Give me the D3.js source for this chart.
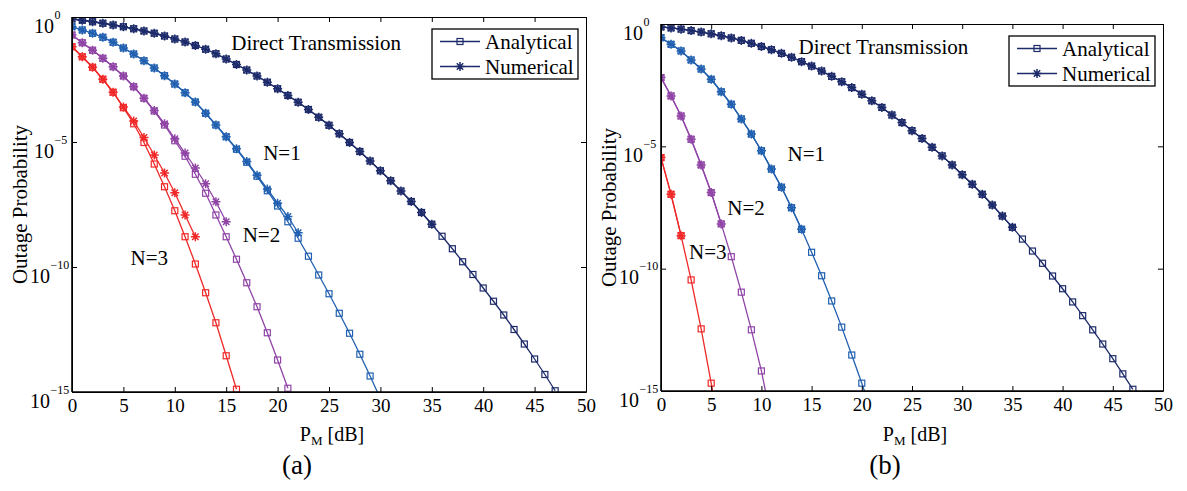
<!DOCTYPE html>
<html>
<head>
<meta charset="utf-8">
<script src="https://cdn.jsdelivr.net/npm/d3@7"></script>
<style>
  body { margin: 0; background: #fff; }
  svg text { font-family: "Liberation Serif", "Times New Roman", serif; fill: #000; }
</style>
</head>
<body>
<svg id="chart" width="1187" height="491"></svg>
<script>
// values are log10(outage probability), one point per dB starting at 0 dB
const xTicks = [0, 5, 10, 15, 20, 25, 30, 35, 40, 45, 50];
const yTickExp = [0, -5, -10, -15];

// ---- panel (a)
const aDirectAna = [-0.08, -0.13, -0.19, -0.25, -0.32, -0.39, -0.47, -0.56, -0.65, -0.76,
  -0.88, -1.00, -1.14, -1.29, -1.47, -1.68, -1.90, -2.12, -2.36, -2.61,
  -2.87, -3.14, -3.41, -3.70, -4.01, -4.33, -4.67, -5.02, -5.38, -5.76,
  -6.15, -6.55, -6.96, -7.38, -7.82, -8.29, -8.77, -9.27, -9.79, -10.30,
  -10.84, -11.37, -11.92, -12.50, -13.08, -13.68, -14.30, -14.95];
const aDirectNum = [-0.08, -0.13, -0.19, -0.25, -0.32, -0.39, -0.47, -0.56, -0.65, -0.76,
  -0.88, -1.00, -1.14, -1.29, -1.47, -1.68, -1.90, -2.12, -2.36, -2.61,
  -2.87, -3.14, -3.41, -3.70, -4.01, -4.33, -4.67, -5.02, -5.38, -5.76,
  -6.15, -6.55, -6.96, -7.38, -7.82, -8.29];
const aN1Ana = [-0.39, -0.52, -0.65, -0.81, -1.01, -1.24, -1.48, -1.75, -2.04, -2.35,
  -2.68, -3.03, -3.40, -3.85, -4.32, -4.79, -5.29, -5.81, -6.37, -6.95,
  -7.56, -8.19, -8.85, -9.57, -10.32, -11.07, -11.85, -12.65, -13.49, -14.36, -15.27];
const aN1Num = [-0.39, -0.52, -0.65, -0.81, -1.01, -1.24, -1.48, -1.75, -2.04, -2.35,
  -2.68, -3.03, -3.40, -3.85, -4.32, -4.79, -5.27, -5.78, -6.33, -6.88,
  -7.45, -7.98, -8.63];
const aN2Ana = [-0.72, -1.03, -1.33, -1.65, -1.99, -2.36, -2.79, -3.25, -3.76, -4.32,
  -4.95, -5.57, -6.29, -7.05, -7.92, -8.79, -9.69, -10.63, -11.59, -12.63, -13.72, -14.85];
const aN2Num = [-0.72, -1.03, -1.33, -1.65, -1.99, -2.36, -2.79, -3.25, -3.74, -4.27,
  -4.87, -5.44, -6.04, -6.67, -7.39, -8.19];
const aN3Ana = [-1.19, -1.59, -2.01, -2.49, -3.01, -3.63, -4.27, -5.02, -5.88, -6.79,
  -7.75, -8.79, -9.88, -11.03, -12.23, -13.55, -14.89];
const aN3Num = [-1.19, -1.59, -2.01, -2.49, -3.01, -3.60, -4.16, -4.82, -5.52, -6.24,
  -7.03, -7.92, -8.79];

// ---- panel (b)
const bDirectAna = [-0.12, -0.16, -0.21, -0.27, -0.33, -0.40, -0.48, -0.57, -0.67, -0.79,
  -0.92, -1.05, -1.20, -1.36, -1.54, -1.72, -1.92, -2.14, -2.36, -2.60,
  -2.87, -3.14, -3.41, -3.72, -4.03, -4.36, -4.68, -5.04, -5.39, -5.76,
  -6.16, -6.55, -6.96, -7.40, -7.85, -8.31, -8.79, -9.28, -9.78, -10.30,
  -10.82, -11.36, -11.92, -12.50, -13.08, -13.68, -14.30, -14.93];
const bDirectNum = [-0.12, -0.16, -0.21, -0.27, -0.33, -0.40, -0.48, -0.57, -0.67, -0.79,
  -0.92, -1.05, -1.20, -1.36, -1.54, -1.72, -1.92, -2.14, -2.36, -2.60,
  -2.87, -3.14, -3.41, -3.72, -4.03, -4.36, -4.68, -5.04, -5.39, -5.76,
  -6.16, -6.55, -6.96, -7.40, -7.85, -8.31];
const bN1Ana = [-0.56, -0.83, -1.10, -1.47, -1.84, -2.26, -2.77, -3.28, -3.88, -4.50,
  -5.18, -5.93, -6.67, -7.51, -8.39, -9.33, -10.29, -11.32, -12.39, -13.53, -14.68, -15.90];
const bN1Num = [-0.56, -0.83, -1.10, -1.47, -1.84, -2.26, -2.77, -3.28, -3.88, -4.50,
  -5.18, -5.93, -6.67, -7.51, -8.39];
const bN2Ana = [-2.19, -2.94, -3.76, -4.71, -5.76, -6.89, -8.17, -9.51, -10.96, -12.50, -14.18, -16.20];
const bN2Num = [-2.19, -2.94, -3.76, -4.71, -5.76, -6.89, -8.17];
const bN3Ana = [-5.46, -6.96, -8.65, -10.46, -12.46, -14.68, -17.00];
const bN3Num = [-5.46, -6.96, -8.65];

const colors = { direct: "#1d2b6b", n1: "#2160b0", n2: "#9044a6", n3: "#f02828" };

const panels = [
  {
    id: "a", left: 72, right: 586, top: 17, bottom: 392, tag: "(a)", tagX: 297,
    series: [
      { ana: aDirectAna, num: aDirectNum, color: colors.direct },
      { ana: aN1Ana, num: aN1Num, color: colors.n1 },
      { ana: aN2Ana, num: aN2Num, color: colors.n2 },
      { ana: aN3Ana, num: aN3Num, color: colors.n3 }
    ],
    notes: [
      { text: "Direct Transmission", x: 15.5, e: -1.32 },
      { text: "N=1", x: 18.6, e: -5.72 },
      { text: "N=2", x: 16.6, e: -9.0 },
      { text: "N=3", x: 5.7, e: -9.92 }
    ]
  },
  {
    id: "b", left: 661, right: 1163, top: 24, bottom: 391, tag: "(b)", tagX: 885,
    series: [
      { ana: bDirectAna, num: bDirectNum, color: colors.direct },
      { ana: bN1Ana, num: bN1Num, color: colors.n1 },
      { ana: bN2Ana, num: bN2Num, color: colors.n2 },
      { ana: bN3Ana, num: bN3Num, color: colors.n3 }
    ],
    notes: [
      { text: "Direct Transmission", x: 13.7, e: -1.21 },
      { text: "N=1", x: 12.6, e: -5.6 },
      { text: "N=2", x: 6.6, e: -7.79 },
      { text: "N=3", x: 2.8, e: -9.62 }
    ]
  }
];

const svg = d3.select("#chart");
const starPath = "M-4.5,0H4.5M0,-4.5V4.5M-3.2,-3.2L3.2,3.2M-3.2,3.2L3.2,-3.2";

function drawSquares(sel, color) {
  sel.append("rect")
    .attr("x", -3).attr("y", -3)
    .attr("width", 6).attr("height", 6)
    .attr("fill", "none")
    .attr("stroke", color)
    .attr("stroke-width", 1.2);
}

function drawStars(sel, color) {
  sel.append("path")
    .attr("d", starPath)
    .attr("fill", "none")
    .attr("stroke", color)
    .attr("stroke-width", 1.5);
}

panels.forEach(p => {
  const xScale = d3.scaleLinear().domain([0, 50]).range([p.left, p.right]);
  const yScale = d3.scaleLog().domain([1e-15, 1]).range([p.bottom, p.top]);
  const g = svg.append("g").attr("class", "panel-" + p.id);

  g.append("clipPath").attr("id", "clip-" + p.id)
    .append("rect")
    .attr("x", p.left).attr("y", p.top)
    .attr("width", p.right - p.left).attr("height", p.bottom - p.top);

  const plot = g.append("g").attr("clip-path", `url(#clip-${p.id})`);

  const line = d3.line()
    .x((d, i) => xScale(i))
    .y(d => yScale(Math.pow(10, d)));

  p.series.forEach(s => {
    plot.append("path")
      .datum(s.ana)
      .attr("fill", "none")
      .attr("stroke", s.color)
      .attr("stroke-width", 1.3)
      .attr("d", line);
    plot.append("path")
      .datum(s.num)
      .attr("fill", "none")
      .attr("stroke", s.color)
      .attr("stroke-width", 1.3)
      .attr("d", line);

    const sq = plot.append("g").selectAll("g")
      .data(s.ana).enter().append("g")
      .attr("transform", (d, i) => `translate(${xScale(i)},${yScale(Math.pow(10, d))})`);
    drawSquares(sq, s.color);

    const st = plot.append("g").selectAll("g")
      .data(s.num).enter().append("g")
      .attr("transform", (d, i) => `translate(${xScale(i)},${yScale(Math.pow(10, d))})`);
    drawStars(st, s.color);
  });

  // axes, ticks pointing inward
  const yVals = yTickExp.map(e => Math.pow(10, e));
  const bottomAxis = g.append("g")
    .attr("transform", `translate(0,${p.bottom})`)
    .call(d3.axisBottom(xScale).tickValues(xTicks).tickSizeInner(-5).tickSizeOuter(0).tickPadding(6.5).tickFormat(d3.format("d")));
  bottomAxis.selectAll("text").style("font-size", "19px");

  g.append("g")
    .attr("transform", `translate(0,${p.top})`)
    .call(d3.axisTop(xScale).tickValues(xTicks).tickSizeInner(-5).tickSizeOuter(0).tickFormat(""));

  const leftAxis = g.append("g")
    .attr("transform", `translate(${p.left},0)`)
    .call(d3.axisLeft(yScale).tickValues(yVals).tickSizeInner(-5).tickSizeOuter(0).tickFormat(""));

  g.append("g")
    .attr("transform", `translate(${p.right},0)`)
    .call(d3.axisRight(yScale).tickValues(yVals).tickSizeInner(-5).tickSizeOuter(0).tickFormat(""));

  // 10^k labels: base below the tick, exponent raised just after it
  leftAxis.selectAll(".tick").each(function(d) {
    const t = d3.select(this);
    const ex = Math.round(Math.log10(d));
    const expText = ex === 0 ? "0" : "\u2212" + Math.abs(ex);
    const baseEnd = ex <= -10 ? -22 : -18;
    t.append("text")
      .attr("x", baseEnd).attr("y", 15)
      .attr("text-anchor", "end")
      .style("font-size", "20px")
      .text("10");
    t.append("text")
      .attr("x", baseEnd + 0.5).attr("y", 1)
      .attr("text-anchor", "start")
      .style("font-size", "12px")
      .text(expText);
  });

  g.selectAll(".domain").attr("stroke", "#000");
  g.selectAll(".tick line").attr("stroke", "#000");

  // frame, left and bottom a bit heavier
  g.append("line").attr("x1", p.left).attr("x2", p.left).attr("y1", p.top).attr("y2", p.bottom)
    .attr("stroke", "#000").attr("stroke-width", 1.6);
  g.append("line").attr("x1", p.left).attr("x2", p.right).attr("y1", p.bottom).attr("y2", p.bottom)
    .attr("stroke", "#000").attr("stroke-width", 1.6);

  // annotations
  g.selectAll(".note")
    .data(p.notes).enter().append("text")
    .attr("class", "note")
    .attr("x", d => xScale(d.x))
    .attr("y", d => yScale(Math.pow(10, d.e)))
    .style("font-size", "21px")
    .text(d => d.text);

  // axis labels
  const xl = g.append("text")
    .attr("x", (p.left + p.right) / 2 + 3)
    .attr("y", 441)
    .attr("text-anchor", "middle")
    .style("font-size", "20px");
  xl.append("tspan").text("P");
  xl.append("tspan").attr("dy", 4).style("font-size", "13px").text("M");
  xl.append("tspan").attr("dy", -4).text(" [dB]");

  g.append("text")
    .attr("transform", `translate(${p.left - 45},${(p.top + p.bottom) / 2}) rotate(-90)`)
    .attr("text-anchor", "middle")
    .style("font-size", "21px")
    .text("Outage Probability");

  g.append("text")
    .attr("x", p.tagX).attr("y", 474)
    .attr("text-anchor", "middle")
    .style("font-size", "27px")
    .text(p.tag);

  // legend
  const legendItems = [
    { name: "Analytical", mark: "square" },
    { name: "Numerical", mark: "star" }
  ];
  const lw = 146, lh = 50;
  const legend = g.append("g")
    .attr("transform", `translate(${p.right - 8 - lw},${p.top + 12})`);
  legend.append("rect")
    .attr("width", lw).attr("height", lh)
    .attr("fill", "#fff")
    .attr("stroke", "#000")
    .attr("stroke-width", 1.3);
  const item = legend.selectAll(".legend-item")
    .data(legendItems).enter().append("g")
    .attr("class", "legend-item")
    .attr("transform", (d, i) => `translate(0,${12.5 + i * 25})`);
  item.append("line")
    .attr("x1", 8).attr("x2", 48)
    .attr("stroke", colors.direct).attr("stroke-width", 1.3);
  item.each(function(d) {
    const m = d3.select(this).append("g").attr("transform", "translate(28,0)");
    if (d.mark === "square") drawSquares(m, colors.direct);
    else drawStars(m, colors.direct);
  });
  item.append("text")
    .attr("x", 53).attr("y", 7)
    .style("font-size", "21px")
    .text(d => d.name);
});
</script>
</body>
</html>
